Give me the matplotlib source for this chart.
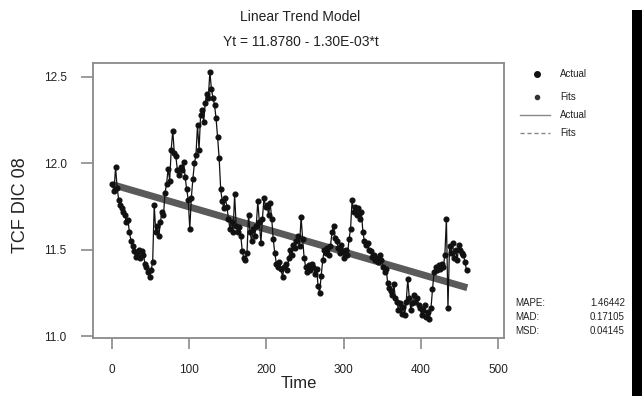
import matplotlib
matplotlib.use("Agg")
import matplotlib.pyplot as plt
from matplotlib.patches import Rectangle
from matplotlib.lines import Line2D

plt.rcParams['font.family'] = ['Liberation Sans', 'DejaVu Sans']

# ---- data ----
time_idx = list(range(1, 461, 2))
actual = [
    11.88, 11.84, 11.98, 11.86, 11.79, 11.76, 11.74, 11.72, 11.70, 11.66,
    11.67, 11.60, 11.55, 11.52, 11.49, 11.46, 11.48, 11.50, 11.45, 11.49,
    11.47, 11.42, 11.40, 11.37, 11.34, 11.38, 11.43, 11.76, 11.60, 11.64,
    11.58, 11.66, 11.72, 11.70, 11.83, 11.88, 11.97, 11.90, 12.08, 12.19,
    12.06, 12.04, 11.96, 11.93, 11.98, 11.96, 12.01, 11.92, 11.85, 11.79,
    11.62, 11.80, 11.91, 12.00, 12.05, 12.22, 12.08, 12.28, 12.31, 12.24,
    12.35, 12.40, 12.38, 12.53, 12.43, 12.38, 12.34, 12.26, 12.15, 12.03,
    11.85, 11.78, 11.74, 11.80, 11.75, 11.68, 11.62, 11.66, 11.60, 11.82,
    11.64, 11.60, 11.63, 11.58, 11.49, 11.45, 11.44, 11.48, 11.70, 11.60,
    11.55, 11.62, 11.58, 11.64, 11.78, 11.66, 11.54, 11.68, 11.80, 11.75,
    11.76, 11.70, 11.77, 11.68, 11.56, 11.48, 11.42, 11.40, 11.43, 11.39,
    11.34, 11.40, 11.42, 11.38, 11.45, 11.50, 11.47, 11.53, 11.51, 11.55,
    11.58, 11.52, 11.69, 11.56, 11.45, 11.40, 11.37, 11.41, 11.38, 11.42,
    11.40, 11.36, 11.39, 11.29, 11.25, 11.35, 11.44, 11.50, 11.48, 11.51,
    11.47, 11.52, 11.60, 11.64, 11.57, 11.55, 11.51, 11.48, 11.53, 11.49,
    11.45, 11.50, 11.47, 11.56, 11.62, 11.79, 11.72, 11.75, 11.70, 11.74,
    11.68, 11.72, 11.60, 11.55, 11.53, 11.54, 11.50, 11.49, 11.46, 11.47,
    11.44, 11.45, 11.43, 11.47, 11.44, 11.40, 11.37, 11.39, 11.31, 11.28,
    11.26, 11.24, 11.30, 11.22, 11.20, 11.15, 11.19, 11.13, 11.17, 11.12,
    11.20, 11.33, 11.22, 11.15, 11.19, 11.24, 11.20, 11.22, 11.18, 11.16,
    11.12, 11.15, 11.18, 11.11, 11.14, 11.10, 11.16, 11.27, 11.37, 11.40,
    11.38, 11.41, 11.39, 11.42, 11.40, 11.47, 11.68, 11.16, 11.52, 11.48,
    11.54, 11.45, 11.50, 11.44, 11.53, 11.50, 11.48, 11.47, 11.43, 11.38,
]
fit_time = [1, 460]
fit_vals = [11.877, 11.280]

x_ticks = [0, 100, 200, 300, 400, 500]
y_ticks = [11.0, 11.5, 12.0, 12.5]
y_ticklabels = ["11.0", "11.5", "12.0", "12.5"]

stat_names = ["MAPE:", "MAD:", "MSD:"]
stat_values = ["1.46442", "0.17105", "0.04145"]

# ---- figure ----
W, H = 642, 396
fig = plt.figure(figsize=(W / 100, H / 100), dpi=100)
ax = fig.add_axes([93 / W, 1 - 338 / H, (504 - 93) / W, (338 - 63) / H])

frame_col = '#8a8a8a'
txt_col = '#222222'

ax.plot(fit_time, fit_vals, color='#5a5a5a', lw=5, solid_capstyle='butt', zorder=2)
ax.plot(time_idx, actual, color='#111111', lw=0.9, marker='o', ms=3.4,
        mfc='#111111', mec='#111111', zorder=3)

ax.set_xlim(-24.2, 507.5)
ax.set_ylim(10.989, 12.581)
ax.set_xticks(x_ticks)
ax.set_xticklabels([str(v) for v in x_ticks])
ax.set_yticks(y_ticks)
ax.set_yticklabels(y_ticklabels)

for s in ax.spines.values():
    s.set_color(frame_col)
    s.set_linewidth(1.3)
ax.tick_params(axis='both', direction='out', color=frame_col, width=1.2,
               labelsize=8.5, labelcolor=txt_col)
ax.tick_params(axis='y', length=9, pad=10)
ax.tick_params(axis='x', length=8, pad=11)


def fx(px):
    return px / W


def fy(py):
    return 1 - py / H


fig.text(fx(299), fy(384), "Time", fontsize=12, color=txt_col,
         ha='center', va='center')
fig.text(fx(21), fy(205), "TCF DIC 08", rotation=90, fontsize=13,
         color=txt_col, ha='center', va='center')

fig.text(fx(300), fy(17), "Linear Trend Model", fontsize=10,
         color=txt_col, ha='center', va='center')
fig.text(fx(301), fy(42), "Yt = 11.8780 - 1.30E-03*t", fontsize=10,
         color=txt_col, ha='center', va='center')

# legend (manual, in figure pixel coords)
fig.add_artist(Line2D([fx(537)], [fy(74)], marker='o', ms=4, color='#111111', lw=0))
fig.add_artist(Line2D([fx(537)], [fy(97)], marker='o', ms=3, color='#333333', lw=0))
fig.add_artist(Line2D([fx(520), fx(550)], [fy(115), fy(115)], color='#888888', lw=1))
fig.add_artist(Line2D([fx(520), fx(550)], [fy(133), fy(133)], color='#888888', lw=1,
                      ls=(0, (3, 2))))
for yy, lab in zip([74, 97, 115, 133], ["Actual", "Fits", "Actual", "Fits"]):
    fig.text(fx(560), fy(yy), lab, fontsize=7, color=txt_col, va='center', ha='left')

for yy, nm, val in zip([303, 317, 331], stat_names, stat_values):
    fig.text(fx(515), fy(yy), nm, fontsize=7, color=txt_col, va='center', ha='left')
    fig.text(fx(590), fy(yy), val, fontsize=7, color=txt_col, va='center', ha='left')

# black bar on the right edge
fig.add_artist(Rectangle((632 / W, 0), 10 / W, 1 - 10 / H, transform=fig.transFigure,
                         facecolor='black', edgecolor='none', zorder=10))

fig.savefig("out.png", dpi=100)
